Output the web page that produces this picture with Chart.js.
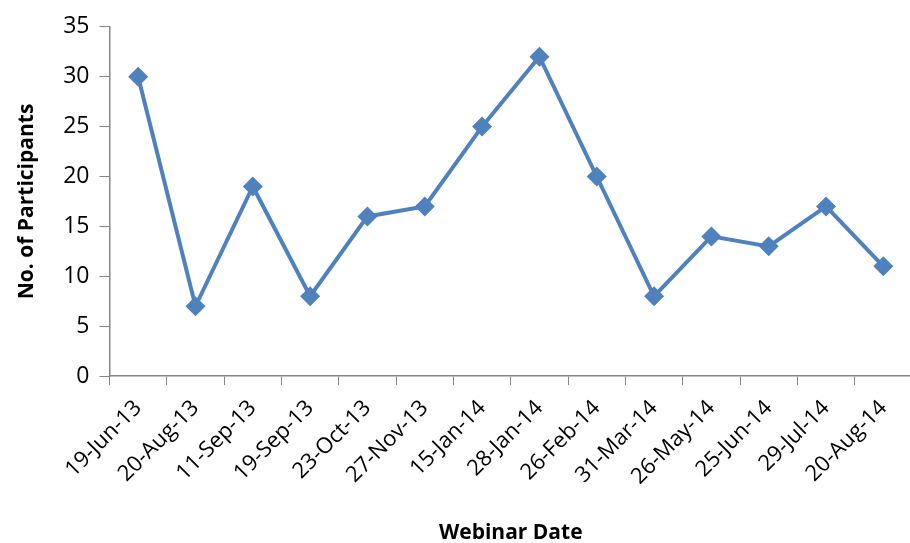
<!DOCTYPE html>
<html>
<head>
<meta charset="utf-8">
<script src="https://cdn.jsdelivr.net/npm/chart.js@4"></script>
<style>
  html, body { margin: 0; padding: 0; background: #fff; overflow: hidden; }
  /* slightly wider than the window so the x axis runs off the right edge */
  #wrap { width: 922px; height: 543px; margin-top: 3px; }
</style>
</head>
<body>
<div id="wrap"><canvas id="webinarChart"></canvas></div>
<script>
const dates = ['19-Jun-13', '20-Aug-13', '11-Sep-13', '19-Sep-13', '23-Oct-13', '27-Nov-13', '15-Jan-14',
               '28-Jan-14', '26-Feb-14', '31-Mar-14', '26-May-14', '25-Jun-14', '29-Jul-14', '20-Aug-14'];
const participants = [30, 7, 19, 8, 16, 17, 25, 32, 20, 8, 14, 13, 17, 11];

const blue = '#4F81BD';
const axisGray = '#868686';

const ctx = document.getElementById('webinarChart').getContext('2d');
new Chart(ctx, {
    type: 'line',
    data: {
        labels: dates,
        datasets: [{
            label: 'Participants',
            data: participants,
            borderColor: blue,
            backgroundColor: blue,
            borderWidth: 4,
            tension: 0,
            pointStyle: 'rectRot',
            pointRadius: 10,
            pointHoverRadius: 10,
            pointBackgroundColor: blue,
            pointBorderColor: blue,
            pointBorderWidth: 0
        }]
    },
    options: {
        responsive: true,
        maintainAspectRatio: false,
        animation: false,
        layout: { padding: { top: 20, right: 0, bottom: 0, left: 14 } },
        plugins: {
            legend: { display: false },
            tooltip: { enabled: false }
        },
        scales: {
            x: {
                offset: true,
                grid: {
                    offset: true,
                    drawOnChartArea: false,
                    color: axisGray,
                    tickLength: 9
                },
                border: { color: axisGray, width: 1.5 },
                ticks: {
                    color: '#000',
                    minRotation: 45,
                    maxRotation: 45,
                    padding: 10,
                    font: { family: 'Open Sans', size: 22 }
                },
                title: {
                    display: true,
                    text: 'Webinar Date',
                    color: '#000',
                    padding: { top: 21, bottom: 0 },
                    font: { family: 'Open Sans', size: 21, weight: 'bold' }
                }
            },
            y: {
                min: 0,
                max: 35,
                ticks: {
                    stepSize: 5,
                    color: '#000',
                    padding: 10,
                    font: { family: 'Open Sans', size: 23 }
                },
                grid: {
                    drawOnChartArea: false,
                    color: axisGray,
                    tickLength: 10
                },
                border: { color: axisGray, width: 1.5 },
                title: {
                    display: true,
                    text: 'No. of Participants',
                    color: '#000',
                    padding: { top: 0, bottom: 14 },
                    font: { family: 'Open Sans', size: 21, weight: 'bold' }
                }
            }
        }
    }
});
</script>
</body>
</html>
